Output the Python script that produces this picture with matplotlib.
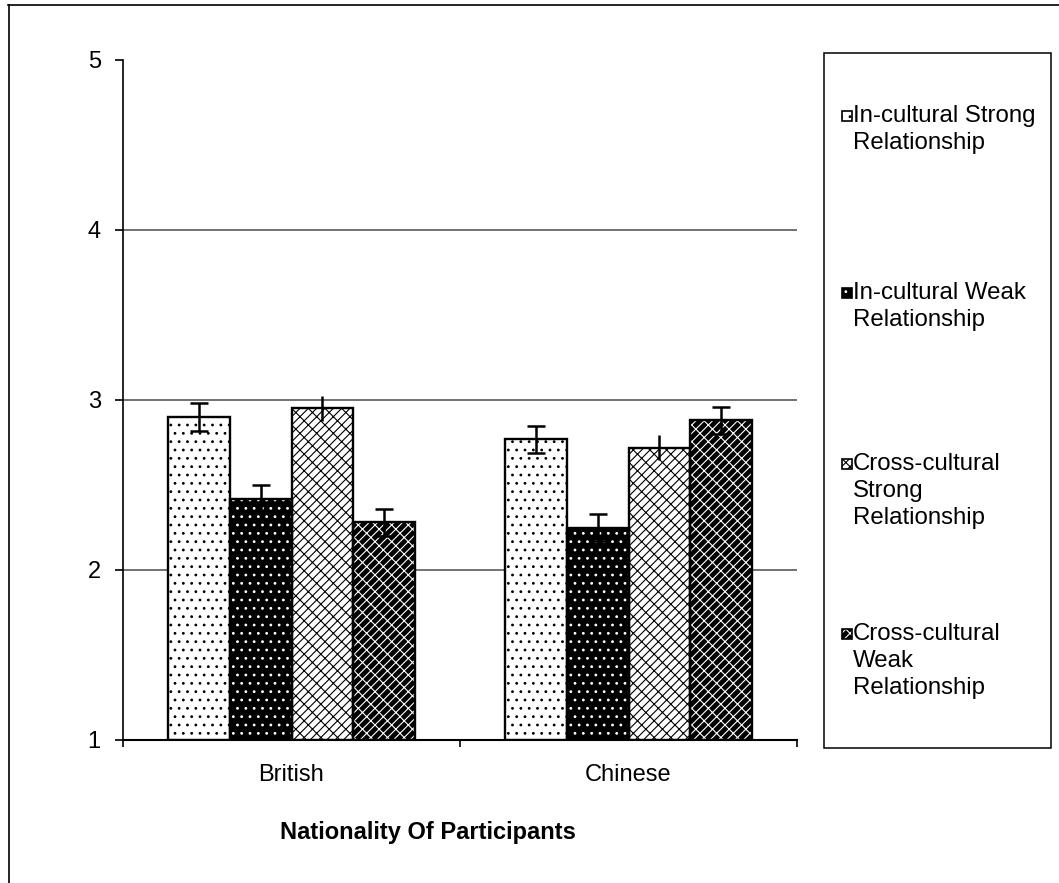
import numpy as np
import matplotlib.pyplot as plt
from matplotlib.patches import Rectangle
from matplotlib.lines import Line2D

plt.rcParams['font.family'] = ['Liberation Sans', 'DejaVu Sans']
plt.rcParams['hatch.linewidth'] = 0.8

nationalities = ['British', 'Chinese']
series_labels = ['In-cultural Strong\nRelationship',
                 'In-cultural Weak\nRelationship',
                 'Cross-cultural\nStrong\nRelationship',
                 'Cross-cultural\nWeak\nRelationship']

in_strong = [2.90, 2.77]
in_weak = [2.42, 2.25]
cross_strong = [2.95, 2.72]
cross_weak = [2.28, 2.88]

in_strong_err = [0.08, 0.08]
in_weak_err = [0.08, 0.08]
cross_strong_err = [0.075, 0.075]
cross_weak_err = [0.08, 0.08]

means = [in_strong, in_weak, cross_strong, cross_weak]
errors = [in_strong_err, in_weak_err, cross_strong_err, cross_weak_err]

# face colour, hatch colour, hatch, error cap size
styles = [('white', 'black', '..', 6.2),
          ('black', 'white', '..', 6.2),
          ('white', 'black', '////\\\\', 0),
          ('black', 'white', '////\\\\', 6.2)]

W, H = 1059, 883
fig = plt.figure(figsize=(W / 100, H / 100), dpi=100)
ax = fig.add_axes([123 / W, 1 - 740 / H, 674 / W, 680 / H])

x = np.arange(len(nationalities))
width = 0.1833

for i, (vals, errs) in enumerate(zip(means, errors)):
    face, hcol, hatch, cap = styles[i]
    pos = x + (i - 1.5) * width
    heights = np.array(vals) - 1
    # hatched fill first, then a plain black outline on top
    ax.bar(pos, heights, width, bottom=1, color=face,
           edgecolor=hcol, hatch=hatch, linewidth=0, zorder=2)
    ax.bar(pos, heights, width, bottom=1, fill=False,
           edgecolor='black', linewidth=1.7, zorder=3)
    ax.errorbar(pos, vals, yerr=errs, fmt='none', ecolor='black',
                elinewidth=1.8, capsize=cap, capthick=1.8, zorder=4)

ax.set_xlim(-0.5, 1.5)
ax.set_ylim(1, 5)
ax.set_yticks([1, 2, 3, 4, 5])
ax.tick_params(axis='y', direction='out', length=6, width=1.2, pad=10, labelsize=17)

# category boundaries carry the ticks, the names sit between them
ax.set_xticks([-0.5, 0.5, 1.5])
ax.set_xticklabels([])
ax.set_xticks(x, minor=True)
ax.set_xticklabels(nationalities, minor=True, fontsize=17)
ax.tick_params(axis='x', which='major', direction='out', length=5, width=1.2)
ax.tick_params(axis='x', which='minor', length=0, pad=17)

for yv in [2, 3, 4]:
    ax.axhline(yv, color='#5a5a5a', linewidth=1.2, zorder=1)

for side in ['top', 'right']:
    ax.spines[side].set_visible(False)
ax.spines['left'].set_linewidth(1.2)
ax.spines['bottom'].set_linewidth(1.5)

ax.set_xlabel('Nationality Of Participants', fontsize=17, fontweight='bold', va='center')
ax.xaxis.set_label_coords((427.5 - 123) / 674, -(832 - 740) / 680)

# legend box drawn by hand so the entries sit where Excel put them
fig.add_artist(Rectangle((824 / W, 1 - 748 / H), 227 / W, 695 / H,
                         transform=fig.transFigure, fill=False,
                         edgecolor='black', linewidth=1.1))
entry_y = [116, 293, 464, 634]
for i, label in enumerate(series_labels):
    face, hcol, hatch, cap = styles[i]
    yc = entry_y[i]
    fig.add_artist(Rectangle((842 / W, 1 - (yc + 5) / H), 10 / W, 10 / H,
                             transform=fig.transFigure, facecolor=face,
                             edgecolor=hcol, hatch=hatch, linewidth=0))
    fig.add_artist(Rectangle((842 / W, 1 - (yc + 5) / H), 10 / W, 10 / H,
                             transform=fig.transFigure, fill=False,
                             edgecolor='black', linewidth=1.2))
    fig.text(853 / W, 1 - (yc - 11) / H, label, fontsize=17.3,
             va='top', ha='left', linespacing=1.28)

# outer frame: only the top and left edges
fig.add_artist(Line2D([8 / W, 1], [1 - 5 / H, 1 - 5 / H],
                      transform=fig.transFigure, color='black', linewidth=1.2))
fig.add_artist(Line2D([9 / W, 9 / W], [0, 1 - 5 / H],
                      transform=fig.transFigure, color='black', linewidth=1.2))

fig.savefig('out.png', dpi=100)
